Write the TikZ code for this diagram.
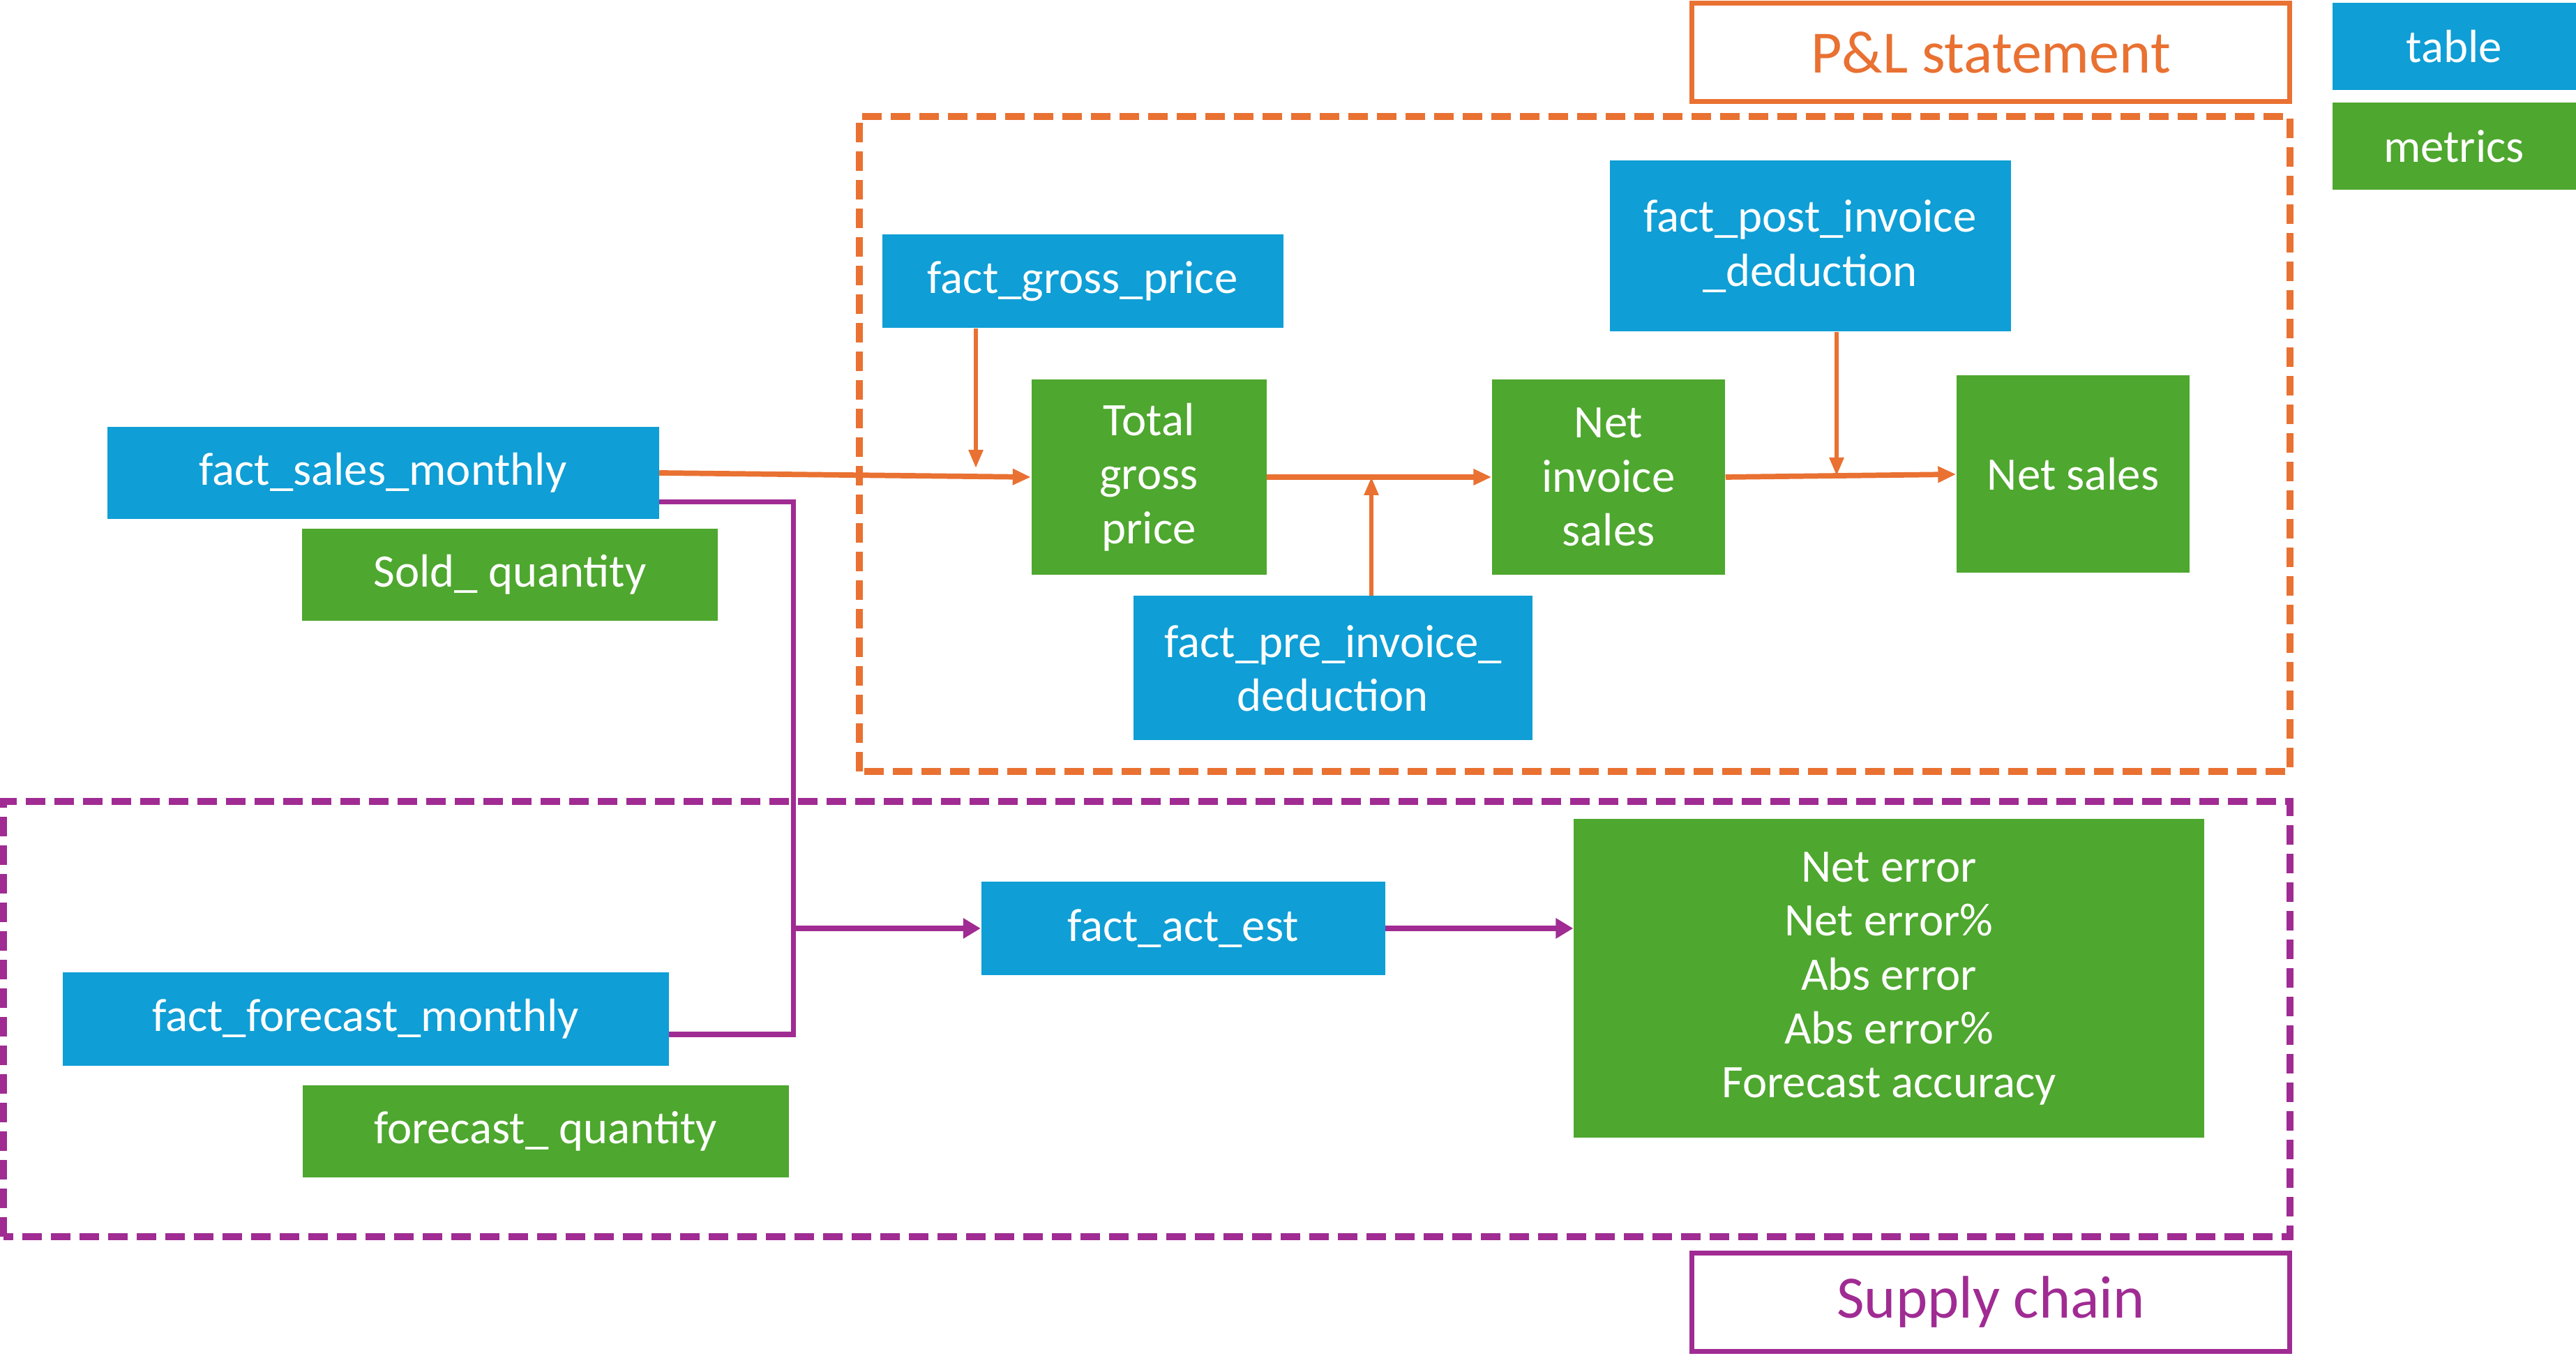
\documentclass[tikz,border=0pt]{standalone}
\usepackage{fontspec}
\setmainfont{Carlito}
\usetikzlibrary{arrows.meta}
\definecolor{tblblue}{HTML}{0F9ED5}
\definecolor{metgreen}{HTML}{4EA72E}
\definecolor{plorange}{HTML}{E97132}
\definecolor{scpurple}{HTML}{A02B93}

\begin{document}
\begin{tikzpicture}[
    font=\fontsize{19}{22}\selectfont,
    tblbox/.style={rectangle, fill=tblblue, text=white, align=center, inner sep=0pt},
    metbox/.style={rectangle, fill=metgreen, text=white, align=center, inner sep=0pt},
    titlebox/.style={rectangle, draw=#1, line width=2pt, fill=white, text=#1, inner sep=0pt,
        minimum width=8.57cm, minimum height=1.41cm, font=\fontsize{24.5}{28}\selectfont},
    framedash/.style={draw=#1, line width=2.6pt, dash pattern=on 0.28cm off 0.13cm},
    oarr/.style={draw=plorange, line width=2.2pt, -{Triangle[length=0.26cm,width=0.22cm]}},
    othin/.style={draw=plorange, line width=1.6pt, -{Triangle[length=0.26cm,width=0.2cm]}},
    pline/.style={draw=scpurple, line width=2pt},
    parr/.style={pline, -{Triangle[length=0.25cm,width=0.28cm]}}]
\useasboundingbox (0,0) rectangle (36.93,19.66);

% frames
	\draw [framedash=plorange] (12.32,8.60) rectangle (32.83,17.99);
	\draw [framedash=scpurple] (0.05,1.93) rectangle (32.83,8.17);

	\node at (28.54,18.91) [titlebox=plorange] (pl) {P\&L statement};
	\node at (28.54,0.99) [titlebox=scpurple] (sc) {Supply chain};

% legend
	\node at (35.18,18.99) [tblbox, minimum width=3.49cm, minimum height=1.25cm] (lgtbl) {table};
	\node at (35.18,17.56) [metbox, minimum width=3.49cm, minimum height=1.25cm] (lgmet) {metrics};

% P&L
        \node at (5.49,12.88) [tblbox, minimum width=7.91cm, minimum height=1.32cm] (sales) {fact\_sales\_monthly};
        \node at (7.31,11.42) [metbox, minimum width=5.96cm, minimum height=1.32cm] (sold) {Sold\_ quantity};
        \node at (15.52,15.63) [tblbox, minimum width=5.75cm, minimum height=1.34cm] (gp) {fact\_gross\_price};
        \node at (25.95,16.13) [tblbox, minimum width=5.75cm, minimum height=2.45cm] (post) {fact\_post\_invoice\\\_deduction};
        \node at (19.11,10.08) [tblbox, minimum width=5.72cm, minimum height=2.07cm] (pre) {fact\_pre\_invoice\_\\deduction};

        \node at (16.47,12.82) [metbox, minimum width=3.37cm, minimum height=2.80cm] (tgp) {Total\\gross\\price};
        \node at (23.06,12.82) [metbox, minimum width=3.34cm, minimum height=2.80cm] (nis) {Net\\invoice\\sales};
        \node at (29.72,12.86) [metbox, minimum width=3.34cm, minimum height=2.83cm] (ns) {Net sales};

	\coordinate (gpin) at (13.99,12.95);
	\coordinate (prein) at (19.66,12.82);
	\coordinate (postin) at (26.33,12.84);

% supply chain
        \node at (5.24,5.05) [tblbox, minimum width=8.69cm, minimum height=1.34cm] (fcm) {fact\_forecast\_monthly};
        \node at (7.82,3.44) [metbox, minimum width=6.97cm, minimum height=1.32cm] (fq) {forecast\_ quantity};
        \node at (16.96,6.35) [tblbox, minimum width=5.79cm, minimum height=1.34cm] (ae) {fact\_act\_est};
        \node at (27.08,5.63) [metbox, minimum width=9.04cm, minimum height=4.57cm] (err)
            {Net error\\Net error\%\\Abs error\\Abs error\%\\Forecast accuracy};

	\coordinate (jn) at (11.37,6.35);

        \draw [oarr] (sales.east) -- (tgp.west);
	\draw [oarr] (tgp.east) -- (nis.west);
	\draw [oarr] (nis.east) -- (ns.west);
	\draw [othin] (gpin |- gp.south) -- (gpin);
	\draw [othin] (prein |- pre.north) -- (prein);
	\draw [othin] (postin |- post.south) -- (postin);

     \draw [pline] ([yshift=-0.42cm]sales.east) -| (jn) |- ([yshift=-0.22cm]fcm.east);
     \draw [parr] (jn) -- (ae.west);
     \draw [parr] (ae.east) -- (ae.east -| err.west);
    \end{tikzpicture}
\end{document}
